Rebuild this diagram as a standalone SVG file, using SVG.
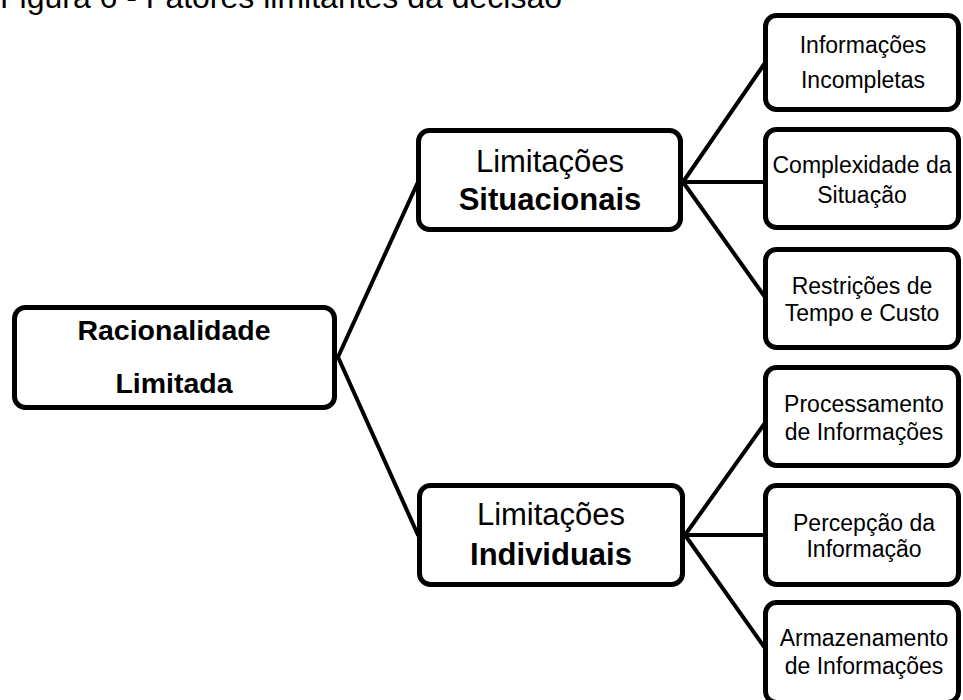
<svg xmlns="http://www.w3.org/2000/svg" width="963" height="700" viewBox="0 0 963 700">
<style>
.box{fill:#fff;stroke:#000;stroke-width:5}
.con line{stroke:#000;stroke-width:4;stroke-linecap:round}
text{font-family:"Liberation Sans",Arial,sans-serif;fill:#000;text-anchor:middle}
.leaf{font-size:23px}
.mid{font-size:31px}
.b{font-weight:bold}
</style>
<rect width="963" height="700" fill="#fff"/>
<text x="0" y="8" style="text-anchor:start;font-size:32px">Figura 6 - Fatores limitantes da decisão</text>
<g id="connectors" class="con">
<line x1="338" y1="357" x2="418" y2="182"/>
<line x1="338" y1="357" x2="418" y2="535"/>
<line x1="683" y1="182" x2="765" y2="63"/>
<line x1="683" y1="182" x2="765" y2="182"/>
<line x1="683" y1="182" x2="765" y2="297"/>
<line x1="685" y1="535" x2="765" y2="423"/>
<line x1="685" y1="535" x2="765" y2="535"/>
<line x1="685" y1="535" x2="765" y2="648"/>
</g>
<g id="root">
<rect class="box" x="14.5" y="307.5" width="320" height="100" rx="11"/>
<text class="b" x="174" y="340" style="font-size:28.5px">Racionalidade</text>
<text class="b" x="174" y="393" style="font-size:28.5px">Limitada</text>
</g>
<g id="situacionais">
<rect class="box" x="418.5" y="130.5" width="262" height="99" rx="11"/>
<text class="mid" x="550" y="172">Limitações</text>
<text class="mid b" x="550" y="210">Situacionais</text>
</g>
<g id="individuais">
<rect class="box" x="419.5" y="485.5" width="263" height="99" rx="11"/>
<text class="mid" x="551" y="525">Limitações</text>
<text class="mid b" x="551" y="565">Individuais</text>
</g>
<g id="leaf1">
<rect class="box" x="765.5" y="15.5" width="193" height="94" rx="11"/>
<text class="leaf" x="863" y="53">Informações</text>
<text class="leaf" x="863" y="88">Incompletas</text>
</g>
<g id="leaf2">
<rect class="box" x="765.5" y="129.5" width="193" height="98" rx="11"/>
<text class="leaf" x="862" y="173">Complexidade da</text>
<text class="leaf" x="862" y="203">Situação</text>
</g>
<g id="leaf3">
<rect class="box" x="765.5" y="249.5" width="193" height="98" rx="11"/>
<text class="leaf" x="862" y="294">Restrições de</text>
<text class="leaf" x="862" y="321">Tempo e Custo</text>
</g>
<g id="leaf4">
<rect class="box" x="765.5" y="367.5" width="193" height="98" rx="11"/>
<text class="leaf" x="864" y="412">Processamento</text>
<text class="leaf" x="864" y="440">de Informações</text>
</g>
<g id="leaf5">
<rect class="box" x="765.5" y="485.5" width="193" height="99" rx="11"/>
<text class="leaf" x="864" y="531">Percepção da</text>
<text class="leaf" x="864" y="557">Informação</text>
</g>
<g id="leaf6">
<rect class="box" x="765.5" y="602.5" width="193" height="100" rx="11"/>
<text class="leaf" x="864" y="646">Armazenamento</text>
<text class="leaf" x="864" y="674">de Informações</text>
</g>
</svg>
